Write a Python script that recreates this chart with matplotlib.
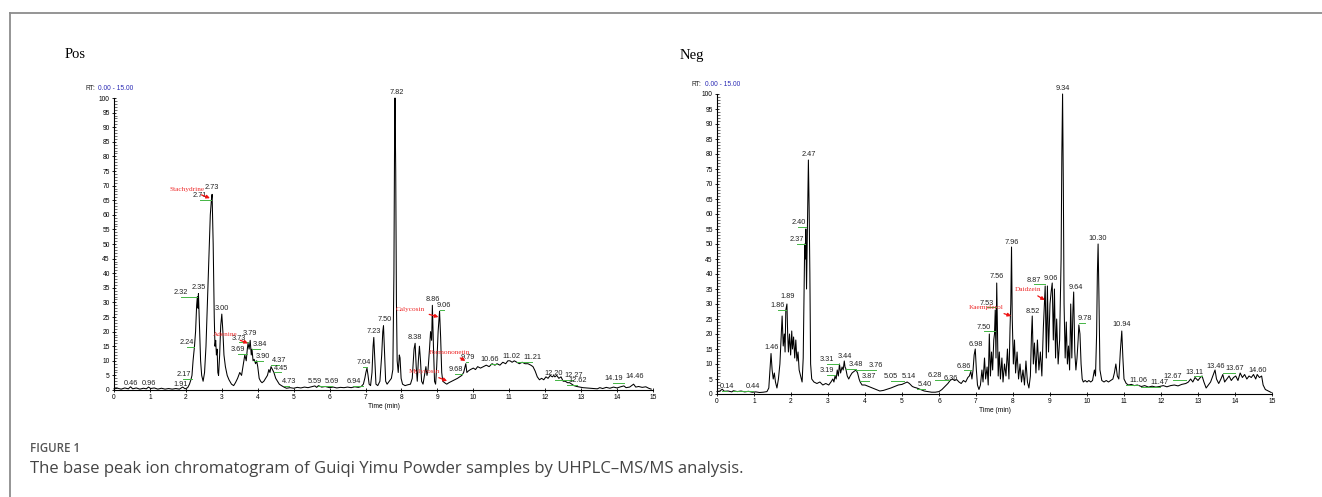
import numpy as np
import matplotlib
matplotlib.use("Agg")
import matplotlib.pyplot as plt
from matplotlib.lines import Line2D

# ---- Pos chromatogram (RT min, relative abundance) ----
pos_points = [
    (0.00, 0.4), (0.10, 0.6), (0.20, 0.3), (0.30, 0.7), (0.40, 0.4), (0.46, 1.1), (0.52, 0.4),
    (0.62, 0.7), (0.72, 0.3), (0.82, 0.6), (0.90, 0.4), (0.96, 1.0), (1.02, 0.5), (1.12, 0.7),
    (1.22, 0.3), (1.32, 0.6), (1.42, 0.3), (1.52, 0.5), (1.62, 0.3), (1.72, 0.5), (1.82, 0.3),
    (1.91, 1.0), (1.98, 0.4), (2.05, 0.8), (2.10, 2.0), (2.14, 3.5), (2.17, 5.0), (2.20, 10),
    (2.24, 15), (2.27, 20), (2.30, 29), (2.32, 32), (2.34, 28), (2.35, 33), (2.38, 22),
    (2.41, 10), (2.44, 5), (2.48, 3), (2.52, 6), (2.56, 15), (2.60, 30), (2.64, 45), (2.68, 60),
    (2.71, 65), (2.73, 67), (2.76, 50), (2.79, 25), (2.81, 15), (2.83, 17), (2.85, 12),
    (2.87, 14), (2.89, 6), (2.91, 5), (2.94, 12), (2.97, 22), (3.00, 26), (3.03, 20), (3.06, 12),
    (3.10, 8), (3.15, 5), (3.20, 3.5), (3.27, 2), (3.33, 1.5), (3.38, 2.5), (3.44, 4), (3.50, 6),
    (3.55, 5), (3.60, 9), (3.64, 12), (3.68, 10), (3.71, 14), (3.73, 16), (3.76, 14), (3.79, 17),
    (3.82, 12), (3.84, 14), (3.87, 10), (3.90, 10.5), (3.94, 9), (3.97, 10), (4.00, 8), (4.04, 4),
    (4.08, 3), (4.12, 2.5), (4.17, 3), (4.22, 4), (4.27, 5), (4.31, 7), (4.34, 6), (4.37, 8),
    (4.41, 7), (4.45, 6), (4.50, 4), (4.55, 3), (4.60, 2), (4.66, 1.5), (4.73, 1.0), (4.80, 0.6),
    (4.90, 0.8), (5.00, 0.6), (5.10, 0.9), (5.20, 0.7), (5.30, 1.0), (5.40, 0.8), (5.50, 1.1),
    (5.59, 1.4), (5.64, 0.9), (5.69, 1.5), (5.78, 1.0), (5.88, 1.2), (6.00, 0.8), (6.10, 1.0),
    (6.20, 0.7), (6.30, 0.9), (6.40, 0.8), (6.50, 1.0), (6.60, 0.8), (6.70, 1.1), (6.80, 0.9),
    (6.88, 1.2), (6.94, 2.0), (6.98, 4), (7.01, 6), (7.04, 7.5), (7.07, 5), (7.10, 2), (7.14, 1.5),
    (7.18, 6), (7.21, 15), (7.23, 18), (7.26, 10), (7.29, 2), (7.34, 1.5), (7.40, 3), (7.45, 12),
    (7.48, 20), (7.50, 22), (7.53, 12), (7.56, 3), (7.60, 2), (7.66, 3), (7.72, 4), (7.76, 7),
    (7.79, 40), (7.81, 90), (7.82, 100), (7.84, 75), (7.86, 30), (7.88, 10), (7.91, 6),
    (7.94, 12), (7.96, 11), (7.99, 4), (8.03, 2), (8.10, 1.5), (8.18, 1.8), (8.25, 2), (8.30, 4),
    (8.35, 14), (8.38, 16), (8.41, 8), (8.44, 3), (8.47, 10), (8.50, 15), (8.53, 10), (8.56, 3),
    (8.60, 2), (8.64, 5), (8.68, 8), (8.71, 5), (8.74, 7), (8.78, 14), (8.81, 20), (8.84, 17),
    (8.86, 29), (8.89, 15), (8.92, 3), (8.95, 2), (8.98, 8), (9.02, 20), (9.06, 27), (9.09, 18),
    (9.12, 6), (9.15, 3), (9.20, 2.5), (9.26, 2), (9.32, 2.5), (9.40, 3), (9.48, 3.5), (9.56, 4),
    (9.62, 4.5), (9.68, 5), (9.73, 6), (9.77, 8), (9.79, 9), (9.82, 6), (9.86, 6.5), (9.92, 7),
    (10.00, 7.5), (10.06, 7), (10.12, 8), (10.20, 7.5), (10.28, 8), (10.36, 8.5), (10.44, 8),
    (10.52, 9), (10.60, 8.5), (10.66, 9), (10.74, 8.5), (10.82, 9.5), (10.90, 9), (10.96, 10),
    (11.02, 10), (11.08, 9.5), (11.14, 10), (11.21, 9.5), (11.28, 9), (11.36, 9.5), (11.44, 9),
    (11.52, 9), (11.60, 8.5), (11.66, 8), (11.72, 6.5), (11.78, 4.5), (11.84, 3.5), (11.90, 4),
    (11.96, 3.5), (12.02, 4.5), (12.08, 4), (12.14, 5), (12.20, 4.5), (12.24, 5), (12.27, 4.5),
    (12.32, 5), (12.38, 4), (12.44, 4.5), (12.50, 3), (12.56, 3), (12.62, 2.5), (12.68, 2.5),
    (12.74, 2), (12.80, 1.5), (12.88, 1.2), (12.96, 1.0), (13.05, 0.8), (13.15, 0.7),
    (13.25, 0.6), (13.35, 0.5), (13.45, 0.4), (13.52, 0.8), (13.60, 0.5), (13.70, 0.9),
    (13.80, 0.6), (13.90, 1.0), (14.00, 0.7), (14.10, 1.1), (14.19, 1.4), (14.25, 0.8),
    (14.35, 1.0), (14.46, 2.0), (14.52, 1.0), (14.60, 1.2), (14.70, 0.9), (14.80, 1.1),
    (14.88, 0.6), (14.95, 0.3),
]

# ---- Neg chromatogram ----
neg_points = [
    (0.00, 0.8), (0.08, 1.0), (0.14, 1.6), (0.20, 0.9), (0.30, 1.0), (0.40, 0.7), (0.44, 1.1),
    (0.55, 0.8), (0.65, 1.0), (0.75, 0.7), (0.85, 0.9), (0.95, 0.6), (1.05, 0.7), (1.15, 0.5),
    (1.25, 0.6), (1.35, 0.8), (1.40, 2), (1.44, 10), (1.46, 13.5), (1.49, 8), (1.52, 5),
    (1.55, 7), (1.58, 4), (1.62, 2), (1.66, 5), (1.70, 10), (1.73, 18), (1.76, 26), (1.79, 16),
    (1.82, 20), (1.84, 14), (1.86, 28), (1.89, 30), (1.91, 20), (1.93, 14), (1.96, 20),
    (1.99, 13), (2.02, 21), (2.04, 15), (2.07, 19), (2.10, 12), (2.13, 18), (2.16, 11),
    (2.19, 14), (2.22, 8), (2.26, 6), (2.30, 4), (2.33, 12), (2.35, 30), (2.37, 50), (2.39, 45),
    (2.40, 55), (2.42, 35), (2.45, 62), (2.47, 78), (2.49, 62), (2.51, 40), (2.53, 10),
    (2.56, 5), (2.62, 4), (2.70, 3.5), (2.78, 4), (2.86, 3), (2.94, 3.5), (3.02, 3), (3.08, 4),
    (3.13, 5), (3.16, 4), (3.19, 6), (3.22, 5), (3.25, 8), (3.28, 6), (3.31, 10), (3.34, 7),
    (3.38, 9), (3.41, 8), (3.44, 11), (3.46, 9), (3.48, 8.5), (3.52, 6), (3.56, 5), (3.60, 6),
    (3.65, 7), (3.70, 7.5), (3.76, 8), (3.80, 7), (3.84, 5), (3.87, 4), (3.92, 3), (4.00, 3),
    (4.10, 2.5), (4.20, 2), (4.30, 1.5), (4.40, 1.0), (4.50, 1.2), (4.60, 1.6), (4.70, 2.0),
    (4.80, 2.5), (4.90, 3.0), (5.00, 3.2), (5.05, 3.5), (5.10, 3.8), (5.14, 4), (5.20, 3.5),
    (5.28, 2.5), (5.34, 2.2), (5.40, 2), (5.50, 1.5), (5.60, 1.0), (5.70, 0.8), (5.80, 0.6),
    (5.90, 0.6), (6.00, 0.8), (6.08, 1.5), (6.16, 2.5), (6.24, 3.5), (6.30, 4.5), (6.36, 5),
    (6.42, 4.5), (6.48, 4.8), (6.54, 4), (6.60, 3.5), (6.66, 4.5), (6.72, 4), (6.78, 5.5),
    (6.82, 6), (6.86, 7.5), (6.89, 5), (6.92, 8), (6.95, 13), (6.98, 15), (7.01, 8), (7.04, 3),
    (7.08, 1.5), (7.12, 3), (7.16, 8), (7.19, 4), (7.23, 12), (7.26, 5), (7.30, 9), (7.33, 3),
    (7.36, 20), (7.39, 6), (7.42, 14), (7.45, 8), (7.48, 18), (7.50, 20), (7.52, 28), (7.54, 12),
    (7.56, 37), (7.58, 22), (7.60, 6), (7.63, 14), (7.66, 5), (7.70, 12), (7.73, 4), (7.77, 10),
    (7.81, 6), (7.85, 15), (7.89, 5), (7.92, 22), (7.94, 30), (7.96, 49), (7.98, 25), (8.01, 10),
    (8.04, 18), (8.07, 7), (8.11, 14), (8.15, 5), (8.19, 10), (8.23, 4), (8.27, 8), (8.31, 3),
    (8.35, 11), (8.39, 4), (8.43, 2), (8.47, 6), (8.50, 20), (8.52, 26), (8.55, 10), (8.58, 17),
    (8.62, 7), (8.66, 18), (8.70, 8), (8.74, 14), (8.78, 6), (8.82, 22), (8.85, 30), (8.87, 36),
    (8.90, 12), (8.93, 36), (8.96, 14), (9.00, 30), (9.03, 34), (9.06, 37), (9.09, 18),
    (9.12, 35), (9.15, 12), (9.18, 25), (9.22, 10), (9.26, 18), (9.30, 45), (9.32, 80),
    (9.34, 100), (9.36, 70), (9.38, 30), (9.41, 12), (9.44, 24), (9.47, 10), (9.50, 16),
    (9.53, 8), (9.56, 30), (9.59, 12), (9.62, 28), (9.64, 34), (9.67, 14), (9.70, 8), (9.73, 12),
    (9.76, 18), (9.78, 23), (9.81, 20), (9.84, 10), (9.87, 5), (9.90, 4), (9.95, 4.5),
    (10.00, 4), (10.05, 4.5), (10.10, 4), (10.15, 4.5), (10.20, 8), (10.23, 6), (10.26, 20),
    (10.28, 40), (10.30, 50), (10.32, 35), (10.35, 8), (10.40, 4.5), (10.46, 4), (10.52, 4.5),
    (10.58, 4), (10.64, 4.5), (10.70, 5), (10.74, 7), (10.78, 10), (10.82, 6), (10.86, 5),
    (10.90, 14), (10.94, 21), (10.97, 12), (11.00, 5), (11.06, 3.5), (11.12, 3), (11.20, 3.2),
    (11.28, 2.8), (11.36, 3), (11.47, 2.5), (11.56, 2.8), (11.66, 2.3), (11.76, 2.6),
    (11.86, 2.3), (11.96, 2.5), (12.06, 2.8), (12.16, 2.4), (12.26, 2.8), (12.36, 3),
    (12.46, 2.7), (12.56, 3.2), (12.67, 3.5), (12.74, 4), (12.80, 5), (12.86, 4), (12.92, 5.5),
    (13.00, 4.5), (13.06, 5.5), (13.11, 6), (13.16, 4), (13.22, 2), (13.28, 3), (13.34, 4),
    (13.40, 6), (13.46, 8), (13.50, 5), (13.56, 3.5), (13.62, 5), (13.67, 6.5), (13.72, 4),
    (13.78, 5), (13.84, 6), (13.90, 4.5), (13.96, 5.5), (14.02, 6), (14.08, 4.5), (14.14, 7),
    (14.20, 5.5), (14.26, 6.5), (14.32, 5), (14.38, 6), (14.44, 5.5), (14.50, 6.5), (14.56, 5),
    (14.60, 6.5), (14.66, 5.5), (14.72, 6), (14.76, 3), (14.82, 1.5), (14.90, 1.0), (14.98, 0.5),
]

# peak labels: (text, rt, label x, label y)
pos_labels = [
    ("0.46", 0.46, 0.46, 2.2), ("0.96", 0.96, 0.96, 2.2), ("1.91", 1.91, 1.86, 2.0),
    ("2.17", 2.17, 1.93, 5.2), ("2.24", 2.24, 2.02, 16.2), ("2.32", 2.32, 1.87, 33.5),
    ("2.35", 2.35, 2.35, 35.0), ("2.71", 2.71, 2.40, 66.5), ("2.73", 2.73, 2.73, 69.5),
    ("3.00", 3.00, 3.00, 28.0), ("3.73", 3.73, 3.48, 17.8), ("3.79", 3.79, 3.79, 19.2),
    ("3.69", 3.69, 3.45, 13.8), ("3.84", 3.84, 4.07, 15.5), ("3.90", 3.90, 4.15, 11.5),
    ("4.37", 4.37, 4.60, 10.0), ("4.45", 4.45, 4.65, 7.5), ("4.73", 4.73, 4.87, 3.0),
    ("5.59", 5.59, 5.60, 3.0), ("5.69", 5.69, 6.07, 2.8), ("6.94", 6.94, 6.66, 2.8),
    ("7.04", 7.04, 6.94, 9.5), ("7.23", 7.23, 7.22, 20.0), ("7.50", 7.50, 7.52, 24.0),
    ("7.82", 7.82, 7.86, 102.0), ("8.38", 8.38, 8.38, 18.0), ("8.86", 8.86, 8.88, 31.0),
    ("9.06", 9.06, 9.17, 29.0), ("9.68", 9.68, 9.50, 7.0), ("9.79", 9.79, 9.86, 11.0),
    ("10.66", 10.66, 10.45, 10.5), ("11.02", 11.02, 11.05, 11.5), ("11.21", 11.21, 11.64, 11.0),
    ("12.20", 12.20, 12.23, 5.5), ("12.27", 12.27, 12.78, 5.0), ("12.62", 12.62, 12.89, 3.2),
    ("14.19", 14.19, 13.90, 3.8), ("14.46", 14.46, 14.48, 4.5),
]

neg_labels = [
    ("0.14", 0.14, 0.27, 2.4), ("0.44", 0.44, 0.96, 2.4), ("1.46", 1.46, 1.48, 15.5),
    ("1.86", 1.86, 1.65, 29.5), ("1.89", 1.89, 1.92, 32.5), ("2.37", 2.37, 2.16, 51.5),
    ("2.40", 2.40, 2.20, 57.0), ("2.47", 2.47, 2.49, 80.0), ("3.31", 3.31, 2.97, 11.5),
    ("3.19", 3.19, 2.97, 7.8), ("3.44", 3.44, 3.46, 12.5), ("3.48", 3.48, 3.75, 9.8),
    ("3.76", 3.76, 4.30, 9.5), ("3.87", 3.87, 4.10, 5.8), ("5.05", 5.05, 4.70, 5.8),
    ("5.14", 5.14, 5.19, 6.0), ("5.40", 5.40, 5.62, 3.2), ("6.28", 6.28, 5.90, 6.2),
    ("6.36", 6.36, 6.32, 5.0), ("6.86", 6.86, 6.68, 9.3), ("6.98", 6.98, 7.00, 16.5),
    ("7.50", 7.50, 7.22, 22.3), ("7.53", 7.53, 7.30, 30.3), ("7.56", 7.56, 7.57, 39.0),
    ("7.96", 7.96, 7.97, 50.5), ("8.52", 8.52, 8.54, 27.5), ("8.87", 8.87, 8.57, 38.0),
    ("9.06", 9.06, 9.03, 38.5), ("9.34", 9.34, 9.35, 102.0), ("9.64", 9.64, 9.70, 35.5),
    ("9.78", 9.78, 9.95, 25.0), ("10.30", 10.30, 10.30, 52.0), ("10.94", 10.94, 10.95, 23.0),
    ("11.06", 11.06, 11.38, 4.5), ("11.47", 11.47, 11.97, 3.9), ("12.67", 12.67, 12.32, 6.0),
    ("13.11", 13.11, 12.90, 7.3), ("13.46", 13.46, 13.49, 9.3), ("13.67", 13.67, 14.00, 8.4),
    ("14.60", 14.60, 14.62, 7.7),
]

# identified compounds: (name, text x, text y, arrow x, arrow y)
pos_names = [
    ("Stachydrine", 2.02, 68.8, 2.67, 65.7),
    ("Adenine", 3.09, 19.0, 3.73, 16.0),
    ("Calycosin", 8.25, 27.7, 9.03, 25.0),
    ("Formononetin", 9.33, 13.0, 9.78, 10.0),
    ("Mylycosin", 8.63, 6.2, 9.27, 3.1),
]
neg_names = [
    ("Kaempferol", 7.27, 28.8, 7.95, 26.0),
    ("Daidzein", 8.40, 34.7, 8.86, 31.3),
]

W, H = 1322, 497
fig = plt.figure(figsize=(W / 100, H / 100), dpi=100)

# frame lines of the figure panel
fig.add_artist(Line2D([9.5 / W, 1], [1 - 13 / H, 1 - 13 / H], transform=fig.transFigure,
                      color="#8c8c8c", lw=1.3))
fig.add_artist(Line2D([9.5 / W, 9.5 / W], [0, 1 - 13 / H], transform=fig.transFigure,
                      color="#8c8c8c", lw=1.3))

sans = "Liberation Sans"
serif = "Liberation Serif"


def draw_panel(ax, points, labels, names, ystep):
    t = [p[0] for p in points]
    v = [p[1] for p in points]
    ax.plot(t, v, color="black", lw=0.75, clip_on=False)
    ax.set_xlim(0, 15)
    ax.set_ylim(0, 100)
    for s in ["top", "right"]:
        ax.spines[s].set_visible(False)
    for s in ["left", "bottom"]:
        ax.spines[s].set_linewidth(0.8)
    ax.set_xticks(range(16))
    ax.set_yticks(range(0, 101, 5))
    ax.set_yticks(range(0, 101, 1), minor=True)
    ax.tick_params(axis="both", which="major", labelsize=4.8, length=3, width=0.6,
                   pad=1.5, direction="inout")
    ax.tick_params(axis="y", which="minor", length=1.8, width=0.4, direction="in")
    for lab in ax.get_xticklabels() + ax.get_yticklabels():
        lab.set_family(sans)
    ax.set_xlabel("Time (min)", fontsize=4.8, family=sans, labelpad=1)

    for txt, rt, tx, ty in labels:
        if abs(tx - rt) > 0.06:
            ax.plot([tx, rt], [ty - ystep, ty - ystep], color="#44b544", lw=0.7,
                    clip_on=False)
        ax.text(tx, ty, txt, fontsize=5.3, family=sans, color="#222222",
                ha="center", va="center", clip_on=False)

    for name, tx, ty, axx, axy in names:
        ax.annotate(name, xy=(axx, axy), xytext=(tx, ty), fontsize=5.2, family=serif,
                    color="#ee2a2a", ha="center", va="center",
                    arrowprops=dict(arrowstyle="-|>", color="#ee1111", lw=0.9,
                                    mutation_scale=5, shrinkA=1, shrinkB=0))


ax1 = fig.add_axes([114 / W, (H - 390) / H, 539 / W, 292 / H])
draw_panel(ax1, pos_points, pos_labels, pos_names, 1.5)

ax2 = fig.add_axes([717 / W, (H - 394) / H, 555 / W, 300 / H])
draw_panel(ax2, neg_points, neg_labels, neg_names, 1.4)

# panel titles and RT range text
fig.text(65 / W, 1 - 55 / H, "Pos", family=serif, fontsize=10.5, va="center")
fig.text(680 / W, 1 - 55 / H, "Neg", family=serif, fontsize=10.5, va="center")
fig.text(85 / W, 1 - 88 / H, "RT:", family=sans, fontsize=4.8, va="center", color="#222222")
fig.text(98 / W, 1 - 88 / H, "0.00 - 15.00", family=sans, fontsize=4.8, va="center",
         color="#2b2bb5")
fig.text(692 / W, 1 - 84 / H, "RT:", family=sans, fontsize=4.8, va="center", color="#222222")
fig.text(705 / W, 1 - 84 / H, "0.00 - 15.00", family=sans, fontsize=4.8, va="center",
         color="#2b2bb5")

# caption
fig.text(30 / W, 1 - 449 / H, "FIGURE 1", family="Open Sans", fontsize=8.3,
         color="#555555", va="center", weight="semibold")
fig.text(30 / W, 1 - 469 / H,
         "The base peak ion chromatogram of Guiqi Yimu Powder samples by UHPLC\u2013MS/MS analysis.",
         family="Open Sans", fontsize=12, color="#444444", va="center")

fig.savefig("out.png", dpi=100)
